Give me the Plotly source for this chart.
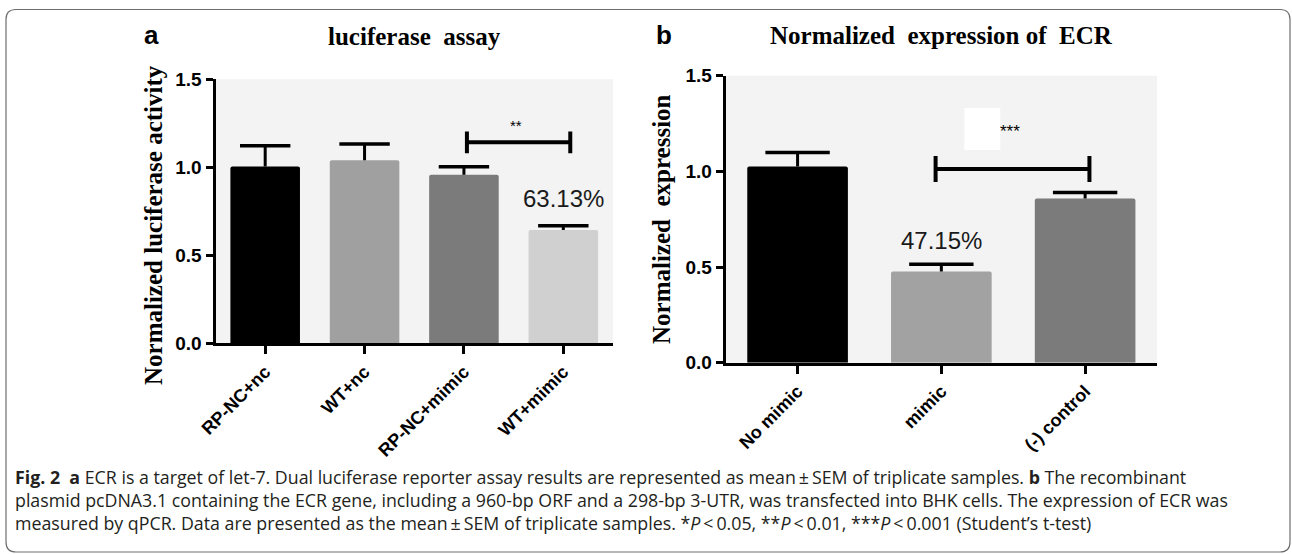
import plotly.graph_objects as go

# ---------------- data ----------------
categories_a = ["RP-NC+nc", "WT+nc", "RP-NC+mimic", "WT+mimic"]
mean_a = [1.005, 1.04, 0.958, 0.644]
sem_a = [0.118, 0.092, 0.045, 0.024]

categories_b = ["No mimic", "mimic", "(-) control"]
mean_b = [1.025, 0.477, 0.858]
sem_b = [0.073, 0.038, 0.032]

ytick_vals = [0.0, 0.5, 1.0, 1.5]
ytick_text = ["0.0", "0.5", "1.0", "1.5"]

pct_a = "63.13%"
pct_b = "47.15%"
sig_a = "**"
sig_b = "***"

# ---------------- styling ----------------
W, H = 1292, 554
colors_a = ["#000000", "#a0a0a0", "#7b7b7b", "#d0d0d0"]
colors_b = ["#000000", "#a2a2a2", "#7b7b7b"]
SANS = "Liberation Sans, Arial, sans-serif"
SERIF = "Liberation Serif, Times New Roman, serif"
CAP_FONT = "Open Sans, Liberation Sans, sans-serif"


def px_x(p):
    return p / W


def px_y(p):
    return 1 - p / H


# panel pixel geometry
A_X0, A_X1, A_Y0, A_Y1 = 215.5, 613.0, 79.3, 343.3
B_X0, B_X1, B_Y0, B_Y1 = 725.7, 1157.0, 75.7, 362.7

fig = go.Figure()

# bars
xa = list(range(len(categories_a)))
xb = list(range(len(categories_b)))
fig.add_trace(go.Bar(x=xa, y=mean_a, marker=dict(color=colors_a, line=dict(width=0), cornerradius=2),
                     xaxis="x", yaxis="y", showlegend=False))
fig.add_trace(go.Bar(x=xb, y=mean_b, marker=dict(color=colors_b, line=dict(width=0), cornerradius=2),
                     xaxis="x2", yaxis="y2", showlegend=False))

# error bars (upper only): stem via error_y, cap via line marker
for xs, m, s, xax, yax, cap in [(xa, mean_a, sem_a, "x", "y", 36), (xb, mean_b, sem_b, "x2", "y2", 46)]:
    tops = [mi + si for mi, si in zip(m, s)]
    fig.add_trace(go.Scatter(
        x=xs, y=tops, mode="markers", xaxis=xax, yaxis=yax, showlegend=False,
        marker=dict(symbol="line-ew-open", size=cap, color="black", line=dict(color="black", width=3.5)),
        error_y=dict(type="data", symmetric=False, array=[0] * len(s), arrayminus=s,
                     width=0, thickness=3, color="black"),
        hoverinfo="skip"))


def bracket(x0, x1, ymid, half, xax, yax):
    fig.add_trace(go.Scatter(
        x=[x0, x0, None, x0, x1, None, x1, x1],
        y=[ymid - half, ymid + half, None, ymid, ymid, None, ymid - half, ymid + half],
        mode="lines", line=dict(color="black", width=4), xaxis=xax, yaxis=yax,
        showlegend=False, hoverinfo="skip"))


bracket(2.03, 3.07, 1.142, 0.062, "x", "y")
bracket(0.96, 2.03, 1.012, 0.068, "x2", "y2")

axis_common = dict(showline=True, linewidth=3, linecolor="black", showgrid=False, zeroline=False,
                   ticks="outside", tickwidth=3, tickcolor="black", automargin=False)

fig.update_layout(
    template="none",
    width=W, height=H, margin=dict(l=0, r=0, t=0, b=0, pad=0, autoexpand=False),
    paper_bgcolor="white", plot_bgcolor="#f3f3f3",
    bargap=0.3, showlegend=False,
    xaxis=dict(domain=[px_x(A_X0), px_x(A_X1)], range=[-0.5, 3.5], anchor="y",
               tickvals=xa, ticktext=categories_a, tickangle=-45, ticklen=8,
               tickfont=dict(family=SANS, size=18, color="black", weight="bold"), **axis_common),
    yaxis=dict(domain=[px_y(A_Y1), px_y(A_Y0)], range=[0, 1.5], anchor="x",
               tickvals=ytick_vals, ticktext=ytick_text, ticklen=7,
               tickfont=dict(family=SANS, size=19, color="black", weight="bold"), **axis_common),
    xaxis2=dict(domain=[px_x(B_X0), px_x(B_X1)], range=[-0.5, 2.5], anchor="y2",
                tickvals=xb, ticktext=categories_b, tickangle=-45, ticklen=8,
                tickfont=dict(family=SANS, size=18, color="black", weight="bold"), **axis_common),
    yaxis2=dict(domain=[px_y(B_Y1), px_y(B_Y0)], range=[0, 1.5], anchor="x2",
                tickvals=ytick_vals, ticktext=ytick_text, ticklen=7,
                tickfont=dict(family=SANS, size=19, color="black", weight="bold"), **axis_common),
)

# white patch behind *** in panel b
fig.add_shape(type="rect", xref="x2", yref="y2", x0=1.16, x1=1.41, y0=1.112, y1=1.331,
              fillcolor="white", line=dict(width=0), layer="below")

ann = []


def add_ann(text, x, y, xref="paper", yref="paper", **kw):
    d = dict(text=text, x=x, y=y, xref=xref, yref=yref, showarrow=False,
             xanchor=kw.pop("xanchor", "center"), yanchor=kw.pop("yanchor", "middle"))
    d.update(kw)
    ann.append(d)


# panel letters
add_ann("<b>a</b>", px_x(151), px_y(35), font=dict(family=SANS, size=26, color="black"))
add_ann("<b>b</b>", px_x(664), px_y(35), font=dict(family=SANS, size=26, color="black"))
# titles
add_ann("<b>luciferase\u00a0 assay</b>", px_x((A_X0 + A_X1) / 2), px_y(36),
        font=dict(family=SERIF, size=25, color="black"))
add_ann("<b>Normalized\u00a0 expression of\u00a0 ECR</b>", px_x((B_X0 + B_X1) / 2), px_y(35),
        font=dict(family=SERIF, size=25, color="black"))
# y titles
add_ann("<b>Normalized luciferase activity</b>", px_x(153), px_y(225), textangle=-90,
        font=dict(family=SERIF, size=25, color="black"))
add_ann("<b>Normalized\u00a0 expression</b>", px_x(661), px_y(219), textangle=-90,
        font=dict(family=SERIF, size=25, color="black"))
# percentages and stars
add_ann(pct_a, 3, 0.82, "x", "y", font=dict(family=SANS, size=24, color="#1a1a1a"))
add_ann(pct_b, 1, 0.64, "x2", "y2", font=dict(family=SANS, size=24, color="#1a1a1a"))
add_ann(sig_a, 2.52, 1.235, "x", "y", font=dict(family=SANS, size=15, color="black"))
add_ann(sig_b, 1.48, 1.207, "x2", "y2", font=dict(family=SANS, size=17, color="black"))

# caption (one wrapped text block)
cap_lines = [
    "<b>Fig. 2</b>  <b>a</b> ECR is a target of let-7. Dual luciferase reporter assay results are represented as mean\u2009\u00b1\u2009SEM of triplicate samples. <b>b</b> The recombinant",
    "plasmid pcDNA3.1 containing the ECR gene, including a 960-bp ORF and a 298-bp 3-UTR, was transfected into BHK cells. The expression of ECR was",
    "measured by qPCR. Data are presented as the mean\u2009\u00b1\u2009SEM of triplicate samples. *<i>P</i>\u2009<\u20090.05, **<i>P</i>\u2009<\u20090.01, ***<i>P</i>\u2009<\u20090.001 (Student\u2019s t-test)",
]
add_ann("<br>".join(cap_lines), px_x(13), px_y(500), xanchor="left", yanchor="middle", align="left",
        font=dict(family=CAP_FONT, size=17.8, color="#231f20"))

fig.update_layout(annotations=ann)

# rounded outer border
L, R, T, B, r = 6, 1290, 9.5, 552, 10
path = (f"M {px_x(L + r)},{px_y(T)} L {px_x(R - r)},{px_y(T)} Q {px_x(R)},{px_y(T)} {px_x(R)},{px_y(T + r)} "
        f"L {px_x(R)},{px_y(B - r)} Q {px_x(R)},{px_y(B)} {px_x(R - r)},{px_y(B)} "
        f"L {px_x(L + r)},{px_y(B)} Q {px_x(L)},{px_y(B)} {px_x(L)},{px_y(B - r)} "
        f"L {px_x(L)},{px_y(T + r)} Q {px_x(L)},{px_y(T)} {px_x(L + r)},{px_y(T)} Z")
fig.add_shape(type="path", path=path, xref="paper", yref="paper",
              line=dict(color="#6e6e6e", width=1.2), fillcolor="rgba(0,0,0,0)")

fig.write_html("out.html", config={"displayModeBar": False},
               post_script="document.body.style.margin='0';document.body.style.overflow='hidden';")
